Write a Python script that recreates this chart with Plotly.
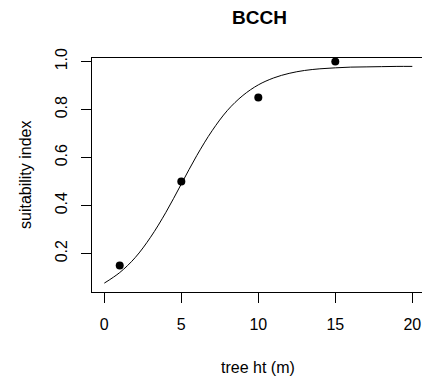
import plotly.graph_objects as go

# observed points
obs_x = [1, 5, 10, 15]
obs_y = [0.15, 0.50, 0.85, 1.00]

# fitted curve, values
curve_x = [0, 1, 2, 3, 4, 5, 6, 7, 8, 9, 10, 11, 12, 13, 14, 15, 16, 17, 18, 19, 20]
curve_y = [0.077, 0.121, 0.183, 0.268, 0.372, 0.490, 0.608, 0.712, 0.797, 0.859,
           0.903, 0.932, 0.951, 0.963, 0.970, 0.974, 0.977, 0.978, 0.979, 0.980, 0.980]

x_ticks = [0, 5, 10, 15, 20]
y_ticks = [0.2, 0.4, 0.6, 0.8, 1.0]
y_tick_labels = ["0.2", "0.4", "0.6", "0.8", "1.0"]

title_text = "BCCH"
x_label = "tree ht (m)"
y_label = "suitability index"

FONT = "Liberation Sans, Arial, Helvetica, sans-serif"

fig = go.Figure()
fig.add_trace(go.Scatter(x=curve_x, y=curve_y, mode="lines",
                         line=dict(color="black", width=1, shape="spline"),
                         hoverinfo="skip", showlegend=False))
fig.add_trace(go.Scatter(x=obs_x, y=obs_y, mode="markers",
                         marker=dict(color="black", size=8),
                         showlegend=False))

W, H = 422, 378
L, T, B, R = 92, 58, 86, 0

# place texts with paper coordinates computed from pixel positions
pw = W - L - R
ph = H - T - B
def px_to_paper(px, py):
    return (px - L) / pw, (H - B - py) / ph

ann = []
tx, ty = px_to_paper(259, 18)
ann.append(dict(text="<b>%s</b>" % title_text, x=tx, y=ty, xref="paper", yref="paper",
                showarrow=False, font=dict(size=19), xanchor="center", yanchor="middle"))
ax, ay = px_to_paper(258, 367)
ann.append(dict(text=x_label, x=ax, y=ay, xref="paper", yref="paper",
                showarrow=False, font=dict(size=16), xanchor="center", yanchor="middle"))
bx, by = px_to_paper(25, 175)
ann.append(dict(text=y_label, x=bx, y=by, xref="paper", yref="paper", textangle=-90,
                showarrow=False, font=dict(size=16), xanchor="center", yanchor="middle"))

fig.update_layout(
    width=W, height=H,
    margin=dict(l=L, r=R, t=T, b=B, pad=0),
    paper_bgcolor="white", plot_bgcolor="white",
    font=dict(family=FONT, size=16, color="black"),
    xaxis=dict(range=[-0.8, 20.63], tickvals=x_ticks, ticks="outside", ticklen=10,
               tickwidth=1, tickcolor="black", showline=True, linecolor="black",
               linewidth=1, mirror=True, showgrid=False, zeroline=False,
               ticklabelstandoff=8, tickfont=dict(size=16)),
    yaxis=dict(range=[0.04, 1.015], tickvals=y_ticks, ticktext=y_tick_labels,
               ticks="outside", ticklen=10, tickwidth=1, tickcolor="black",
               showline=True, linecolor="black", linewidth=1, mirror=False,
               showgrid=False, zeroline=False, tickangle=-90,
               ticklabelstandoff=8, tickfont=dict(size=16)),
    annotations=ann,
)

fig.write_html("out.html")
